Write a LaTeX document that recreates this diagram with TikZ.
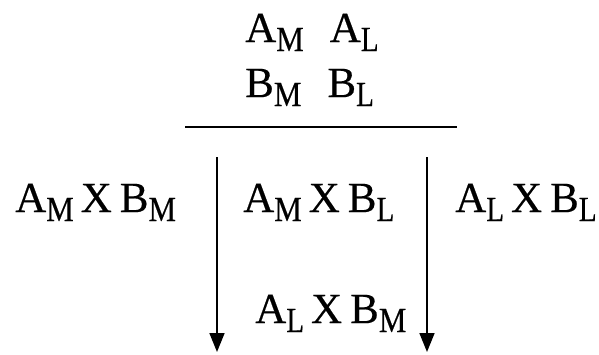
\documentclass[tikz,border=0pt]{standalone}
\usepackage{fontspec}
\setmainfont{Liberation Serif}[FakeBold=0.4]
\usepackage{graphicx}
\usetikzlibrary{arrows.meta}
\newcommand{\sbM}{\raisebox{-9pt}{\scalebox{0.72}[0.82]{M}}}
\newcommand{\sbL}{\raisebox{-9pt}{\scalebox{0.68}[0.82]{L}}}
\newcommand{\prodlab}[2]{A#1\hspace{7pt}X\hspace{8pt}B#2}
\tikzset{
  lab/.style={anchor=base west, inner sep=0pt, font=\fontsize{43}{50}\selectfont},
  arr/.style={line width=1.6pt, -{Triangle[length=19pt,width=15pt]}},
}
\begin{document}
\begin{tikzpicture}[x=1pt,y=1pt]
\useasboundingbox (0,0) rectangle (599,-354);
\node[lab] (top1) at (245,-42) {A\sbM\hspace{26pt}A\sbL};
\node[lab] (top2) at (245,-97) {B\sbM\hspace{26pt}B\sbL};
\coordinate (lineL) at (185,-127);
\coordinate (lineR) at (457,-127);
\draw[line width=2pt] (lineL) -- (lineR);
\node[lab] (mm) at (15,-212) {\prodlab{\sbM}{\sbM}};
\node[lab] (ml) at (243,-212) {\prodlab{\sbM}{\sbL}};
\node[lab] (ll) at (455,-212) {\prodlab{\sbL}{\sbL}};
\node[lab] (lm) at (255,-323) {\prodlab{\sbL}{\sbM}};
\coordinate (a1s) at (217,-157);
\coordinate (a1e) at (217,-352);
\coordinate (a2s) at (427,-157);
\coordinate (a2e) at (427,-352);
\draw[arr] (a1s) -- (a1e);
\draw[arr] (a2s) -- (a2e);
\end{tikzpicture}
\end{document}
